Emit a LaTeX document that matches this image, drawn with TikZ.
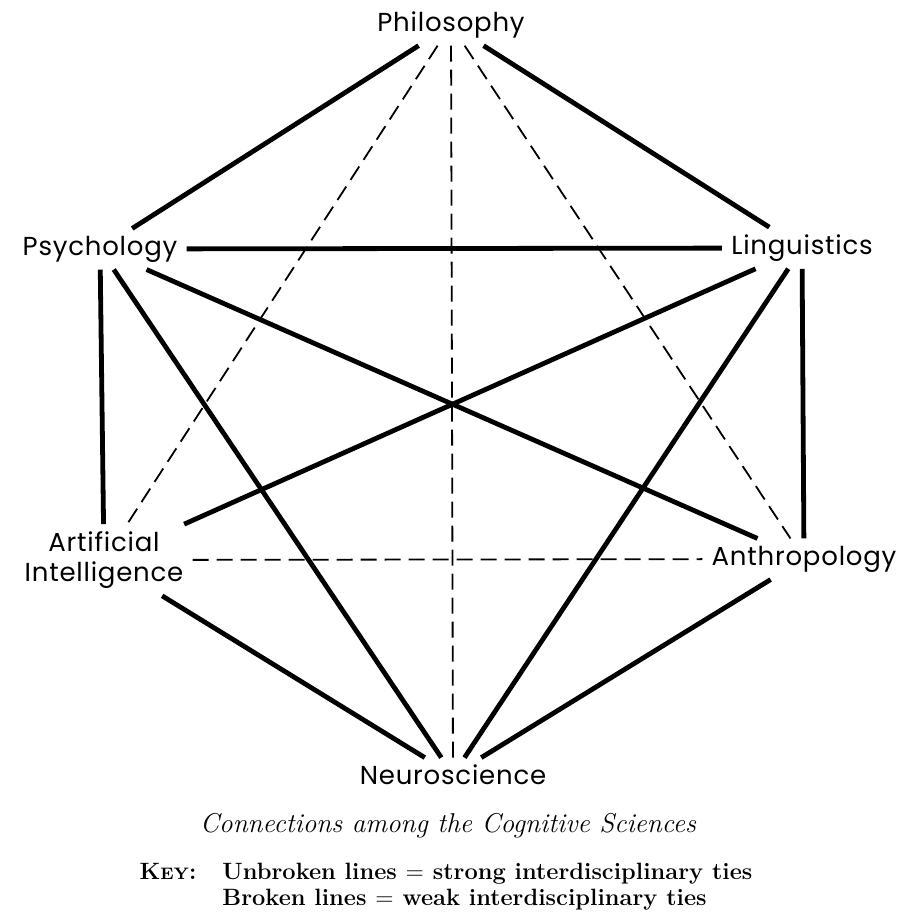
\documentclass[tikz,border=0pt]{standalone}
\usepackage{fontspec}
\newfontfamily\labelfont[LetterSpace=3]{Poppins}

\begin{document}
\begin{tikzpicture}[
    x=0.5pt, y=-0.5pt,
    field/.style={
        rectangle,
        inner xsep=4.5pt,
        inner ysep=3.5pt,
        align=center,
        font=\labelfont\fontsize{13}{15}\selectfont
    },
    strong/.style={line width=2.4pt},
    weak/.style={line width=0.9pt, dash pattern=on 8pt off 4pt}
]

\useasboundingbox[fill=white] (0,0) rectangle (913,913);

\node[field] (phil) at (451,25) {Philosophy};
\node[field] (psych) at (100,249) {Psychology};
\node[field] (ling) at (802,248) {Linguistics};
\node[field] (ai) at (104,560) {Artificial\\Intelligence};
\node[field] (anthro) at (804,559) {Anthropology};
\node[field] (neuro) at (453,775) {Neuroscience};

\node (caption) at (448,826) {\fontsize{13.6}{16}\selectfont\itshape Connections among the Cognitive Sciences};
\node[font=\bfseries\fontsize{11.8}{13}\selectfont] (key) at (446,887) {%
    \begin{tabular}{@{}l@{\hspace{13pt}}l@{}}
    K{\fontsize{8.3}{13}\selectfont EY}: & Unbroken lines $=$ strong interdisciplinary ties\\
    & Broken lines $=$ weak interdisciplinary ties
    \end{tabular}
};

\draw[strong] (phil) -- (psych);
\draw[strong] (phil) -- (ling);
\draw[weak] (phil) -- (ai);
\draw[weak] (phil) -- (anthro);
\draw[weak] (phil) -- (neuro);

\draw[strong] (psych) -- (ling);
\draw[strong] (psych) -- (ai);
\draw[strong] (psych) -- (neuro);
\draw[strong] (psych) -- (anthro);

\draw[strong] (ling) -- (ai);
\draw[strong] (ling) -- (neuro);
\draw[strong] (ling) -- (anthro);

\draw[weak] (ai) -- (anthro);
\draw[strong] (ai) -- (neuro);
\draw[strong] (anthro) -- (neuro);

\end{tikzpicture}
\end{document}
